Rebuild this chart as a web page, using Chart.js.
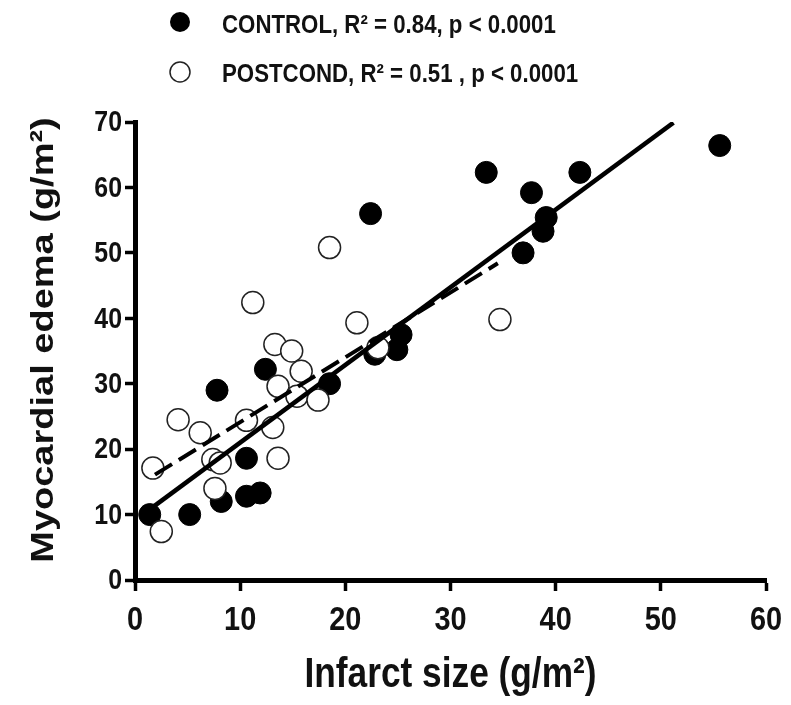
<!DOCTYPE html>
<html>
<head>
<meta charset="utf-8">
<script src="https://cdn.jsdelivr.net/npm/chart.js@4/dist/chart.umd.min.js"></script>
<style>
  html, body { margin: 0; padding: 0; background: #fff; }
  #wrap { width: 791px; height: 705px; }
</style>
</head>
<body>
<div id="wrap"><canvas id="edemaChart" width="791" height="705"></canvas></div>
<script>
// values
const xTicks = [0, 10, 20, 30, 40, 50, 60];
const yTicks = [0, 10, 20, 30, 40, 50, 60, 70];

const controlX = [1.4, 5.2, 7.8, 8.2, 10.6, 10.6, 11.9, 12.4, 18.5, 22.4, 22.8, 24.9, 25.3, 33.4, 36.9, 37.7, 38.8, 39.1, 42.3, 55.6];
const controlY = [10.0, 10.0, 29.0, 12.0, 18.6, 12.8, 13.3, 32.2, 30.0, 56.0, 34.5, 35.2, 37.5, 62.3, 50.0, 59.2, 53.3, 55.4, 62.3, 66.4];

const postX = [1.7, 2.5, 4.1, 6.2, 7.4, 8.1, 7.6, 10.6, 11.2, 13.1, 13.6, 13.3, 14.9, 15.8, 13.6, 15.4, 17.4, 18.5, 21.1, 23.1, 34.7];
const postY = [17.1, 7.4, 24.5, 22.5, 18.4, 17.9, 14.0, 24.4, 42.4, 23.3, 18.6, 36.0, 35.0, 31.9, 29.6, 28.1, 27.5, 50.8, 39.3, 35.5, 39.8];

// regression line end points
const controlFitX = [1.5, 51.2];
const controlFitY = [10.9, 69.9];
const postFitX = [1.9, 34.5];
const postFitY = [16.1, 48.4];

const legendLabels = ['CONTROL, R\u00B2 = 0.84, p < 0.0001', 'POSTCOND, R\u00B2 = 0.51 , p < 0.0001'];
const xTitle = 'Infarct size (g/m\u00B2)';
const yTitle = 'Myocardial edema (g/m\u00B2)';

const fontFamily = "'Liberation Sans', Arial, sans-serif";
const textColor = '#111';

function pairs(xs, ys) {
    return xs.map((x, i) => ({ x: x, y: ys[i] }));
}

// the original lettering is squeezed sideways, so draw it with a horizontal scale
function squeezed(ctx, text, x, y, opts) {
    ctx.save();
    ctx.translate(x, y);
    if (opts.rotate) ctx.rotate(opts.rotate);
    if (opts.rotate) ctx.scale(1, opts.squeeze); else ctx.scale(opts.squeeze, 1);
    ctx.font = 'bold ' + opts.size + 'px ' + fontFamily;
    ctx.fillStyle = textColor;
    ctx.textAlign = opts.align || 'left';
    ctx.textBaseline = opts.baseline || 'alphabetic';
    ctx.fillText(text, 0, 0);
    ctx.restore();
}

// tick labels, axis titles and legend
const lettering = {
    id: 'lettering',
    afterDraw(chart) {
        const ctx = chart.ctx;
        const xs = chart.scales.x;
        const ys = chart.scales.y;

        xs.ticks.forEach(t => {
            squeezed(ctx, String(t.value), xs.getPixelForValue(t.value), 630,
                { size: 34, squeeze: 0.85, align: 'center' });
        });
        ys.ticks.forEach(t => {
            squeezed(ctx, String(t.value), 122, ys.getPixelForValue(t.value) + 1,
                { size: 30, squeeze: 0.83, align: 'right', baseline: 'middle' });
        });

        squeezed(ctx, xTitle, (xs.left + xs.right) / 2, 687,
            { size: 42, squeeze: 0.84, align: 'center' });
        squeezed(ctx, yTitle, 53, 340,
            { size: 38, squeeze: 0.84, align: 'center', rotate: -Math.PI / 2 });

        // legend markers
        ctx.save();
        ctx.beginPath();
        ctx.arc(180, 22, 10, 0, Math.PI * 2);
        ctx.fillStyle = '#000';
        ctx.fill();
        ctx.beginPath();
        ctx.arc(180, 72, 10, 0, Math.PI * 2);
        ctx.lineWidth = 1.5;
        ctx.strokeStyle = '#222';
        ctx.stroke();
        ctx.restore();

        squeezed(ctx, legendLabels[0], 222, 33, { size: 25, squeeze: 0.89 });
        squeezed(ctx, legendLabels[1], 222, 82, { size: 25, squeeze: 0.89 });
    }
};

document.addEventListener('DOMContentLoaded', function () {
    const ctx = document.getElementById('edemaChart').getContext('2d');

    new Chart(ctx, {
        type: 'scatter',
        data: {
            datasets: [
                {
                    label: 'CONTROL fit',
                    data: pairs(controlFitX, controlFitY),
                    showLine: true,
                    borderColor: '#000',
                    borderWidth: 4.5,
                    pointRadius: 0
                },
                {
                    label: 'POSTCOND fit',
                    data: pairs(postFitX, postFitY),
                    showLine: true,
                    borderColor: '#000',
                    borderWidth: 4,
                    borderDash: [20, 8],
                    pointRadius: 0
                },
                {
                    label: 'POSTCOND',
                    data: pairs(postX, postY),
                    backgroundColor: '#fff',
                    borderColor: '#222',
                    borderWidth: 1.5,
                    pointRadius: 11
                },
                {
                    label: 'CONTROL',
                    data: pairs(controlX, controlY),
                    backgroundColor: '#000',
                    borderColor: '#000',
                    borderWidth: 1,
                    pointRadius: 11
                }
            ]
        },
        options: {
            responsive: false,
            animation: false,
            layout: {
                padding: { top: 122, right: 25, bottom: 0, left: 0 }
            },
            scales: {
                x: {
                    type: 'linear',
                    min: 0,
                    max: 60,
                    afterFit: (scale) => { scale.height = 125; },
                    afterBuildTicks: (scale) => { scale.ticks = xTicks.map(v => ({ value: v })); },
                    border: { display: true, color: '#000', width: 5 },
                    grid: {
                        drawOnChartArea: false,
                        drawTicks: true,
                        tickLength: 11,
                        tickWidth: 3.5,
                        tickColor: '#000'
                    },
                    ticks: { display: false },
                    title: { display: false }
                },
                y: {
                    type: 'linear',
                    min: 0,
                    max: 70,
                    afterFit: (scale) => { scale.width = 135; },
                    afterBuildTicks: (scale) => { scale.ticks = yTicks.map(v => ({ value: v })); },
                    border: { display: true, color: '#000', width: 5 },
                    grid: {
                        drawOnChartArea: false,
                        drawTicks: true,
                        tickLength: 10,
                        tickWidth: 3.5,
                        tickColor: '#000'
                    },
                    ticks: { display: false },
                    title: { display: false }
                }
            },
            plugins: {
                legend: { display: false },
                tooltip: { enabled: false }
            }
        },
        plugins: [lettering]
    });
});
</script>
</body>
</html>
